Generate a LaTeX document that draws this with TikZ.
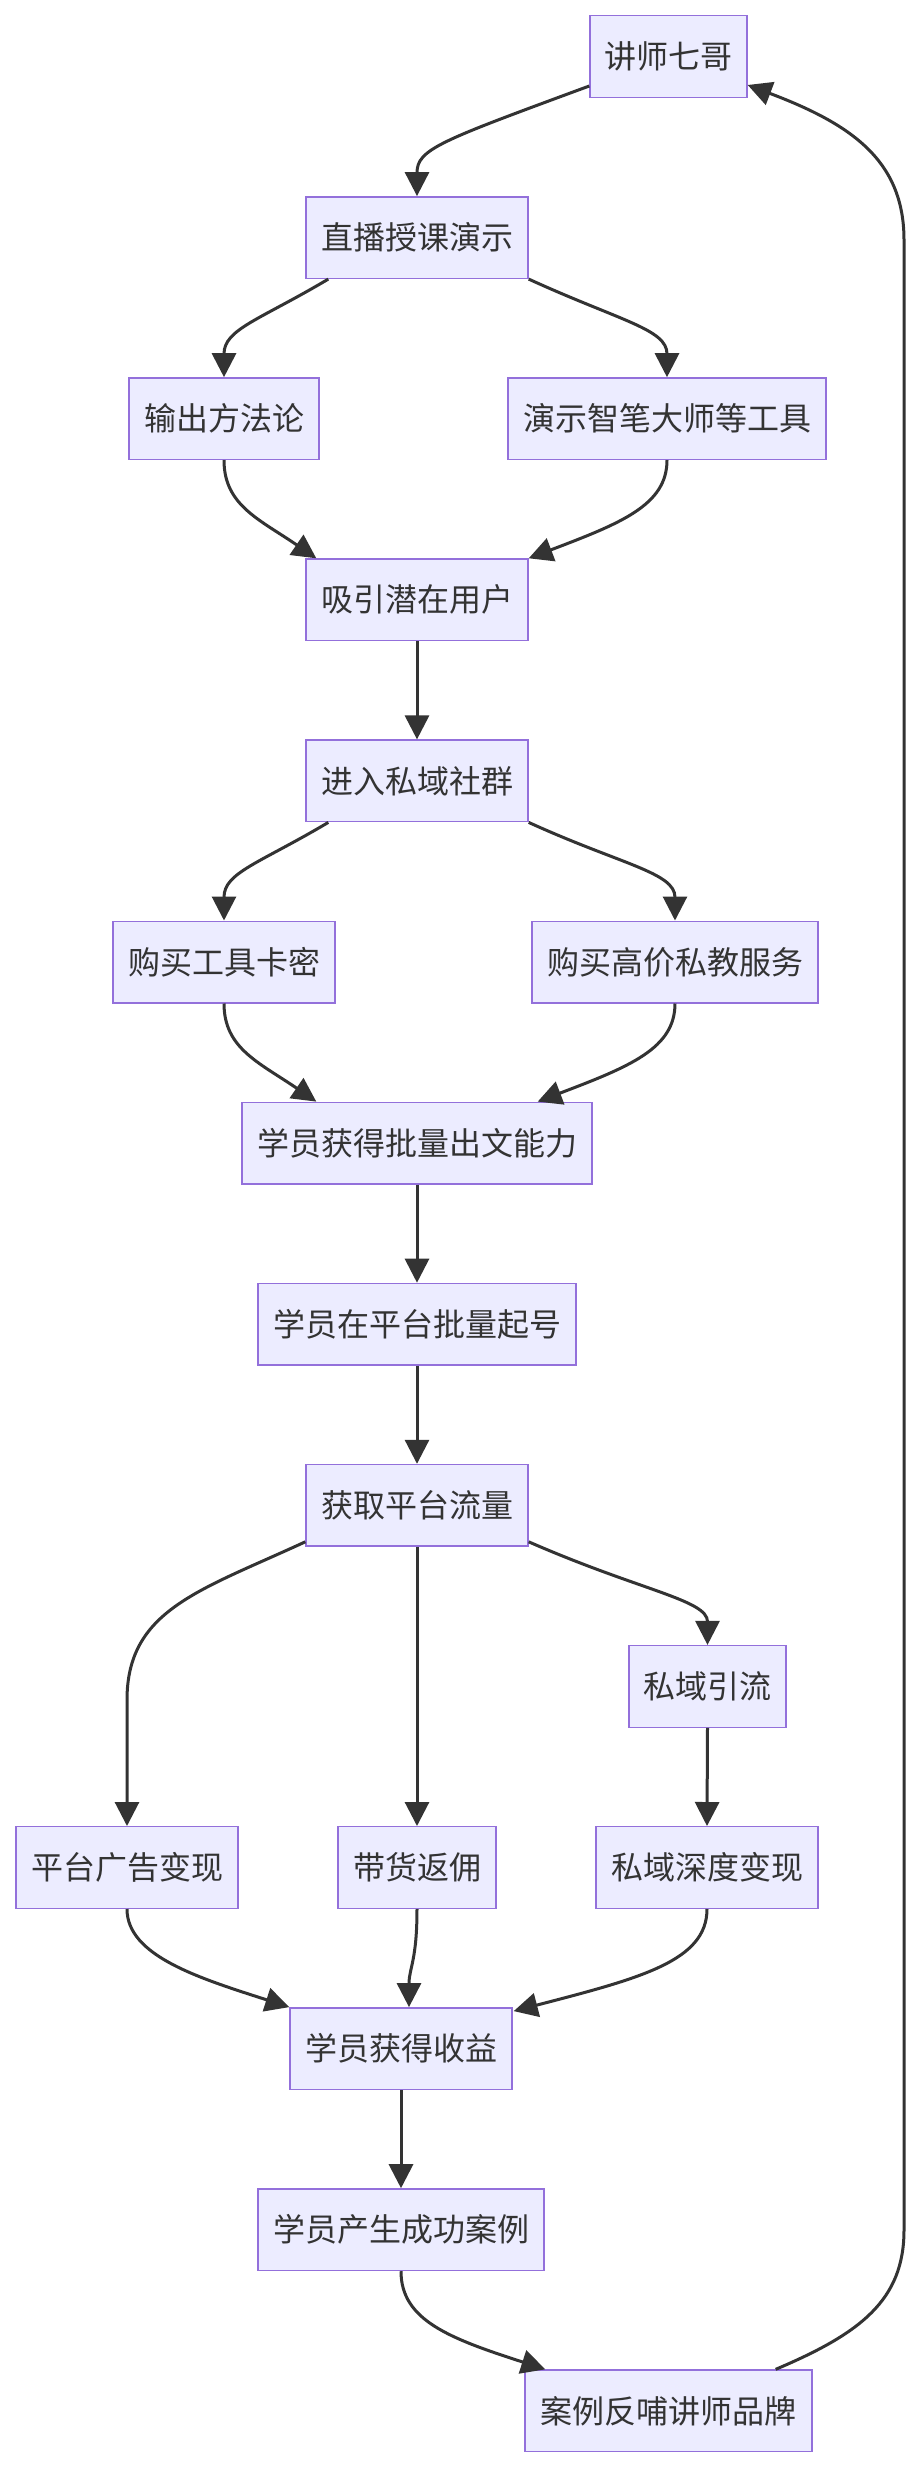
\documentclass[tikz,border=0pt]{standalone}
\usepackage{fontspec}
\newfontfamily\cjk{Noto Sans CJK SC}
\usetikzlibrary{arrows.meta,calc}
\definecolor{boxfill}{HTML}{ECECFF}
\definecolor{boxborder}{HTML}{9370DB}
\definecolor{lc}{HTML}{333333}
\definecolor{txt}{HTML}{333333}
\tikzset{
  box/.style={draw=boxborder, fill=boxfill, line width=1.4pt, minimum height=81.6pt,
    inner sep=0pt, font=\cjk\fontsize{32}{36}\selectfont, text=txt},
  edge/.style={draw=lc, line width=3pt, -{Triangle[length=24pt,width=24pt]}}
}
\begin{document}
\begin{tikzpicture}[x=1pt,y=-1pt]
\useasboundingbox[fill=white] (0,0) rectangle (920,2470);
\node[box,minimum width=157pt] (n1) at (668.5,56.5) {讲师七哥};
\node[box,minimum width=222pt] (n2) at (417,237.6) {直播授课演示};
\node[box,minimum width=190pt] (n3) at (224,418.7) {输出方法论};
\node[box,minimum width=318pt] (n4) at (667,418.7) {演示智笔大师等工具};
\node[box,minimum width=222pt] (n5) at (417,599.8) {吸引潜在用户};
\node[box,minimum width=222pt] (n6) at (417,780.9) {进入私域社群};
\node[box,minimum width=222pt] (n7) at (224,962) {购买工具卡密};
\node[box,minimum width=286pt] (n8) at (675,962) {购买高价私教服务};
\node[box,minimum width=350pt] (n9) at (417,1143.1) {学员获得批量出文能力};
\node[box,minimum width=318pt] (n10) at (417,1324.2) {学员在平台批量起号};
\node[box,minimum width=222pt] (n11) at (417,1505.3) {获取平台流量};
\node[box,minimum width=157pt] (n12) at (707.5,1686.4) {私域引流};
\node[box,minimum width=222pt] (n13) at (127,1867.5) {平台广告变现};
\node[box,minimum width=158pt] (n14) at (417,1867.5) {带货返佣};
\node[box,minimum width=222pt] (n15) at (707,1867.5) {私域深度变现};
\node[box,minimum width=222pt] (n16) at (401,2048.6) {学员获得收益};
\node[box,minimum width=286pt] (n17) at (401,2229.7) {学员产生成功案例};
\node[box,minimum width=287pt] (n18) at (668.5,2410.8) {案例反哺讲师品牌};
\coordinate (r1) at (904,2230);
\coordinate (r2) at (904,240);
\coordinate (l1) at (127,1700);

\draw[edge] ($(n1.south west)+(0,-12)$) .. controls +(-149,55) and +(0,-47) .. (n2.north);
\draw[edge] ($(n2.south west)+(23,0)$) .. controls +(-69,41) and +(0,-48) .. (n3.north);
\draw[edge] (n2.south east) .. controls +(92,42) and +(0,-48) .. (n4.north);
\draw[edge] (n3.south) .. controls +(0,45) and +(-57,-39) .. ($(n5.north west)+(11,0)$);
\draw[edge] (n4.south) .. controls +(0,45) and +(92,-35) .. (n5.north east);
\draw[edge] (n5.south) -- (n6.north);
\draw[edge] ($(n6.south west)+(23,0)$) .. controls +(-69,41) and +(0,-48) .. (n7.north);
\draw[edge] (n6.south east) .. controls +(92,42) and +(0,-48) .. (n8.north);
\draw[edge] (n7.south) .. controls +(0,45) and +(-57,-39) .. ($(n9.north west)+(75,0)$);
\draw[edge] (n8.south) .. controls +(0,45) and +(92,-35) .. ($(n9.north east)+(-55,0)$);
\draw[edge] (n9.south) -- (n10.north);
\draw[edge] (n10.south) -- (n11.north);
\draw[edge] ($(n11.south west)+(0,-5)$) .. controls +(-106,49) and +(0,-90) .. (l1) -- (n13.north);
\draw[edge] (n11.south) -- (n14.north);
\draw[edge] ($(n11.south east)+(0,-5)$) .. controls +(112,49) and +(0,-45) .. (n12.north);
\draw[edge] (n12.south) -- (n15.north);
\draw[edge] (n13.south) .. controls +(0,47) and +(-90,-29) .. (n16.north west);
\draw[edge] (n14.south) .. controls +(0,52) and +(0,-39) .. ($(n16.north)+(8,0)$);
\draw[edge] (n15.south) .. controls +(0,52) and +(127,-33) .. ($(n16.north east)+(1,4)$);
\draw[edge] (n16.south) -- (n17.north);
\draw[edge] (n17.south) .. controls +(0,49) and +(-96,-31) .. ($(n18.north west)+(21,0)$);
\draw[edge] ($(n18.north east)+(-37,0)$) .. controls +(85,-36) and +(0,70) .. (r1) -- (r2)
  .. controls +(0,-80) and +(103,39) .. ($(n1.north east)+(0,70)$);
\end{tikzpicture}
\end{document}
